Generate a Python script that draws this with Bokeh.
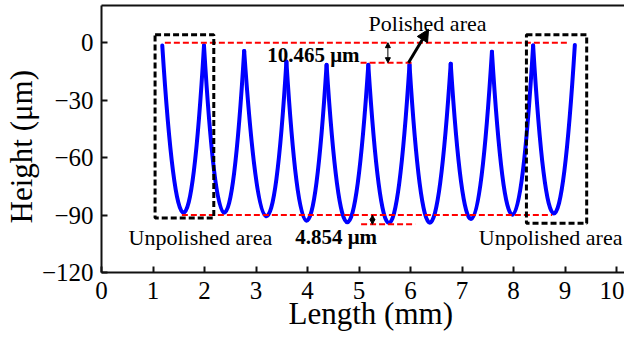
import numpy as np
from bokeh.plotting import figure
from bokeh.models import LinearAxis, FixedTicker, Range1d, Label, Arrow, NormalHead
from bokeh.embed import file_html
from bokeh.resources import INLINE

# ---- data ----
peak_x = [1.18, 1.99, 2.77, 3.59, 4.37, 5.18, 5.98, 6.78, 7.58, 8.38, 9.19]
peak_y = [-1.5, -1.5, -4.3, -9.9, -11.6, -11.6, -11.5, -11.0, -4.7, -1.5, -1.2]
valley_x = [1.60, 2.38, 3.21, 3.98, 4.77, 5.58, 6.37, 7.18, 7.98, 8.78]
valley_y = [-88.8, -88.8, -90.6, -93.0, -93.8, -94.2, -94.0, -92.0, -89.8, -89.2]

x_ticks = [0, 1, 2, 3, 4, 5, 6, 7, 8, 9, 10]
y_ticks = [0, -30, -60, -90, -120]
y_tick_labels = ["0", "\u221230", "\u221260", "\u221290", "\u2212120"]

ref_top = 0.0
polished_step = 10.465
ref_bottom = -90.0
depth_step = 4.854

FONT = "Liberation Serif"

p = figure(width=624, height=333, x_range=Range1d(0, 10.154), y_range=Range1d(-120, 19.4),
           output_backend="svg", toolbar_location=None,
           min_border_left=96, min_border_right=0, min_border_top=5, min_border_bottom=59)
p.outline_line_color = None
p.grid.visible = False
p.background_fill_color = "white"

for ax in (p.xaxis[0], p.yaxis[0]):
    ax.axis_line_width = 2
    ax.axis_line_color = "#111111"
    ax.major_tick_in = 6
    ax.major_tick_out = 0
    ax.major_tick_line_width = 2
    ax.major_tick_line_color = "#111111"
    ax.minor_tick_line_color = None
    ax.major_label_text_font = FONT
    ax.major_label_text_font_size = "25px"
    ax.major_label_text_color = "black"
    ax.axis_label_text_font = FONT
    ax.axis_label_text_font_size = "31px"
    ax.axis_label_text_font_style = "normal"
    ax.axis_label_text_color = "black"
p.xaxis[0].ticker = FixedTicker(ticks=x_ticks)
p.yaxis[0].ticker = FixedTicker(ticks=y_ticks)
p.yaxis[0].major_label_overrides = dict(zip(y_ticks, y_tick_labels))
p.xaxis[0].major_label_standoff = 9
p.yaxis[0].major_label_standoff = 8
p.xaxis[0].axis_label = "\u2002Length (mm)"
p.xaxis[0].axis_label_standoff = -6
p.yaxis[0].axis_label = "Height (\u03bcm)\u2002"
p.yaxis[0].axis_label_standoff = 0

top_axis = LinearAxis(ticker=FixedTicker(ticks=[]), axis_line_width=2, axis_line_color="#111111",
                      major_tick_in=0, major_tick_out=0, minor_tick_line_color=None,
                      major_label_text_font_size="0px", major_label_standoff=0)
p.add_layout(top_axis, "above")

# ---- profile: one parabolic groove between consecutive peaks ----
x0 = np.array(peak_x[:-1]); y0 = np.array(peak_y[:-1])
x1 = np.array(peak_x[1:]); y1 = np.array(peak_y[1:])
cx = np.array(valley_x)
cy = 2 * np.array(valley_y) - (y0 + y1) / 2
p.quadratic(x0=x0, y0=y0, x1=x1, y1=y1, cx=cx, cy=cy,
            line_color="#0000ff", line_width=4, line_cap="round")

# ---- red reference lines ----
p.segment(x0=[1.23, 5.03, 1.56, 5.04], x1=[9.08, 6.07, 8.75, 6.09],
          y0=[ref_top, ref_top - polished_step, ref_bottom, ref_bottom - depth_step],
          y1=[ref_top, ref_top - polished_step, ref_bottom, ref_bottom - depth_step],
          line_color="#ff0000", line_width=2, line_dash="6 3")

# ---- dashed boxes for unpolished areas ----
p.quad(left=[1.04, 8.25], right=[2.18, 9.42], top=[4.16, 4.16], bottom=[-91.5, -94.3],
       fill_color=None, line_color="black", line_width=3, line_dash="6 3")

# ---- arrows ----
p.add_layout(Arrow(x_start=5.56, y_start=ref_top, x_end=5.56, y_end=ref_top - polished_step,
                   start=NormalHead(size=5, fill_color="black", line_color="black", line_width=1),
                   end=NormalHead(size=5, fill_color="black", line_color="black", line_width=1),
                   line_width=1, line_color="black"))
p.add_layout(Arrow(x_start=5.26, y_start=ref_bottom, x_end=5.26, y_end=ref_bottom - depth_step,
                   start=NormalHead(size=5, fill_color="black", line_color="black", line_width=1),
                   end=NormalHead(size=5, fill_color="black", line_color="black", line_width=1),
                   line_width=1, line_color="black"))
p.add_layout(Arrow(x_start=5.96, y_start=-10.5, x_end=6.35, y_end=7.0,
                   end=NormalHead(size=12, fill_color="black", line_color="black", line_width=1),
                   line_width=3, line_color="black"))

# ---- texts ----
def lab(x, y, text, size, style="normal", align="left"):
    p.add_layout(Label(x=x, y=y, text=text, text_font=FONT, text_font_size=size,
                       text_font_style=style, text_align=align, text_baseline="alphabetic",
                       text_color="black"))

lab(5.01, -6.6, "10.465 \u03bcm", "21px", "bold", "right")
lab(6.33, 9.8, "Polished area", "22px", "normal", "center")
lab(3.76, -101.6, "4.854 \u03bcm", "21px", "bold", "left")
lab(1.92, -101.6, "Unpolished area", "22px", "normal", "center")
lab(8.72, -101.6, "Unpolished area", "22px", "normal", "center")

open("out.html", "w").write(file_html(p, INLINE))
